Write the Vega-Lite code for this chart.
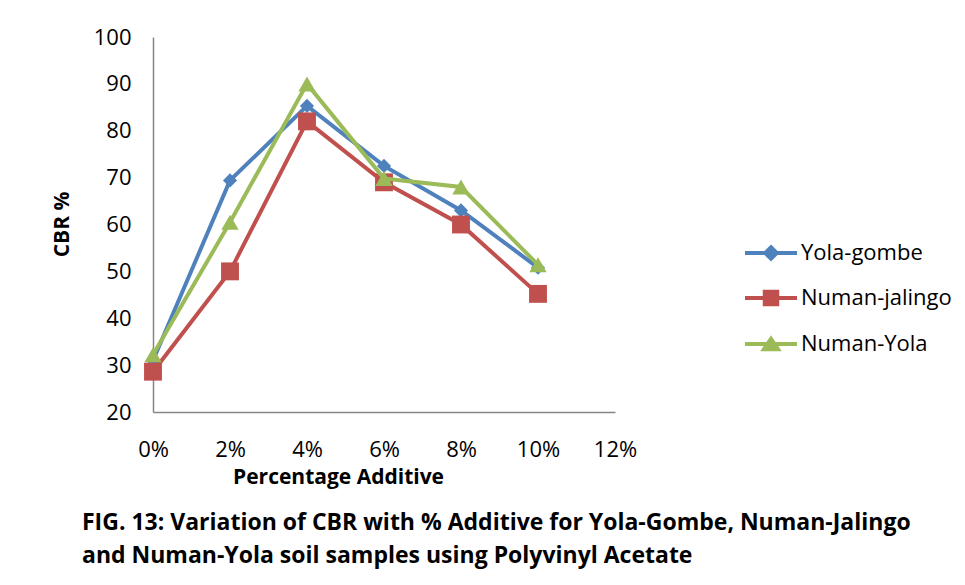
{
  "$schema": "https://vega.github.io/schema/vega-lite/v6.json",
  "width": 462,
  "height": 375,
  "autosize": {"type": "none"},
  "padding": {"left": 153, "top": 37, "right": 350, "bottom": 173},
  "background": "white",
  "config": {
    "view": {"stroke": null},
    "font": "Open Sans",
    "axis": {"labelColor": "#000000", "titleColor": "#000000"}
  },
  "title": {
    "text": [
      "FIG. 13: Variation of CBR with % Additive for Yola-Gombe, Numan-Jalingo",
      "and Numan-Yola  soil samples using Polyvinyl Acetate"
    ],
    "orient": "bottom",
    "anchor": "start",
    "frame": "group",
    "dx": -71,
    "offset": 25,
    "fontSize": 23,
    "fontWeight": "bold",
    "lineHeight": 33,
    "color": "#000000"
  },
  "data": {
    "values": [
      {"series": "Yola-gombe", "additive": 0, "cbr": 31},
      {"series": "Yola-gombe", "additive": 2, "cbr": 69.4},
      {"series": "Yola-gombe", "additive": 4, "cbr": 85.3},
      {"series": "Yola-gombe", "additive": 6, "cbr": 72.5},
      {"series": "Yola-gombe", "additive": 8, "cbr": 63},
      {"series": "Yola-gombe", "additive": 10, "cbr": 50.8},
      {"series": "Numan-jalingo", "additive": 0, "cbr": 28.6},
      {"series": "Numan-jalingo", "additive": 2, "cbr": 50},
      {"series": "Numan-jalingo", "additive": 4, "cbr": 82},
      {"series": "Numan-jalingo", "additive": 6, "cbr": 69},
      {"series": "Numan-jalingo", "additive": 8, "cbr": 60},
      {"series": "Numan-jalingo", "additive": 10, "cbr": 45.2},
      {"series": "Numan-Yola", "additive": 0, "cbr": 32.2},
      {"series": "Numan-Yola", "additive": 2, "cbr": 60.5},
      {"series": "Numan-Yola", "additive": 4, "cbr": 90},
      {"series": "Numan-Yola", "additive": 6, "cbr": 69.8},
      {"series": "Numan-Yola", "additive": 8, "cbr": 68},
      {"series": "Numan-Yola", "additive": 10, "cbr": 51.4}
    ]
  },
  "encoding": {
    "x": {
      "field": "additive",
      "type": "quantitative",
      "scale": {"domain": [0, 12], "nice": false, "zero": false},
      "axis": {
        "values": [0, 2, 4, 6, 8, 10, 12],
        "labelExpr": "datum.value + '%'",
        "grid": false,
        "ticks": false,
        "domainColor": "#868686",
        "domainWidth": 1.5,
        "labelPadding": 27,
        "labelFontSize": 22,
        "labelFlush": false,
        "title": "Percentage Additive",
        "titleFontSize": 21,
        "titleFontWeight": "bold",
        "titleX": 185,
        "titleY": 65,
        "titleAlign": "center",
        "titleBaseline": "middle"
      }
    },
    "y": {
      "field": "cbr",
      "type": "quantitative",
      "scale": {"domain": [20, 100], "nice": false, "zero": false},
      "axis": {
        "values": [20, 30, 40, 50, 60, 70, 80, 90, 100],
        "grid": false,
        "ticks": false,
        "domainColor": "#868686",
        "domainWidth": 1.5,
        "labelPadding": 22,
        "labelFontSize": 22,
        "labelFlush": false,
        "title": "CBR %",
        "titleFontSize": 21,
        "titleFontWeight": "bold",
        "titleX": -91,
        "titleY": 187,
        "titleAlign": "center",
        "titleBaseline": "middle"
      }
    },
    "color": {
      "field": "series",
      "type": "nominal",
      "scale": {
        "domain": ["Yola-gombe", "Numan-jalingo", "Numan-Yola"],
        "range": ["#4F81BD", "#C0504D", "#9BBB59"]
      },
      "legend": {
        "title": null,
        "orient": "none",
        "legendX": 590,
        "legendY": 188,
        "labelFontSize": 22,
        "labelColor": "#000000",
        "labelOffset": 2,
        "symbolSize": 2704,
        "rowPadding": 3,
        "encode": {
          "symbols": {
            "update": {
              "shape": {
                "signal": "datum.value === 'Yola-gombe' ? 'M-1,0L1,0M0,-0.22L0.22,0L0,0.22L-0.22,0Z' : datum.value === 'Numan-jalingo' ? 'M-1,0L1,0M-0.24,-0.24L0.24,-0.24L0.24,0.24L-0.24,0.24Z' : 'M-1,0L1,0M0,-0.2L0.27,0.2L-0.27,0.2Z'"
              },
              "fill": {"scale": "color", "field": "value"},
              "stroke": {"scale": "color", "field": "value"},
              "strokeWidth": {"value": 4},
              "opacity": {"value": 1}
            }
          }
        }
      }
    }
  },
  "layer": [
    {
      "transform": [{"filter": "datum.series === 'Yola-gombe'"}],
      "mark": {"type": "line", "strokeWidth": 4}
    },
    {
      "transform": [{"filter": "datum.series === 'Yola-gombe'"}],
      "mark": {"type": "point", "shape": "diamond", "filled": true, "size": 200, "opacity": 1}
    },
    {
      "transform": [{"filter": "datum.series === 'Numan-jalingo'"}],
      "mark": {"type": "line", "strokeWidth": 4}
    },
    {
      "transform": [{"filter": "datum.series === 'Numan-jalingo'"}],
      "mark": {"type": "point", "shape": "square", "filled": true, "size": 320, "opacity": 1}
    },
    {
      "transform": [{"filter": "datum.series === 'Numan-Yola'"}],
      "mark": {"type": "line", "strokeWidth": 4}
    },
    {
      "transform": [{"filter": "datum.series === 'Numan-Yola'"}],
      "mark": {"type": "point", "shape": "triangle-up", "filled": true, "size": 300, "opacity": 1}
    }
  ]
}
